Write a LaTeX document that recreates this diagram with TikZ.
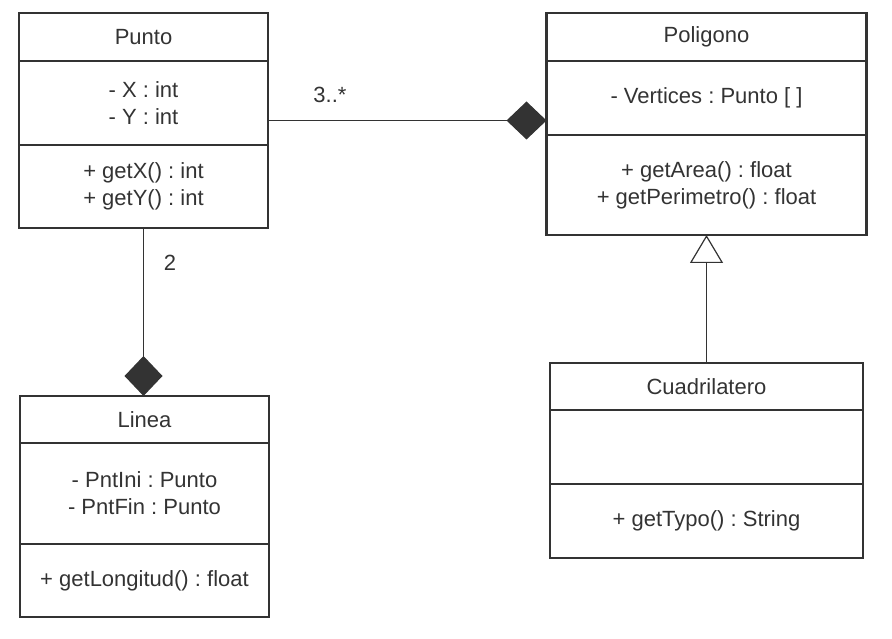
\documentclass[tikz,border=0pt]{standalone}
\usepackage{fontspec}
\setmainfont{Liberation Sans}
\frenchspacing
\usetikzlibrary{positioning}
\usetikzlibrary{arrows.meta,calc}
\definecolor{umlGray}{HTML}{333333}
\tikzset{
    classPart/.style={draw=umlGray, line width=2.4pt, outer sep=0pt, inner sep=0pt,
		text=umlGray, align=center, font=\fontsize{22}{27}\selectfont},
    composition/.style={draw=umlGray, line width=1.2pt,
		-{Diamond[length=40pt,width=38pt,fill=umlGray]}},
    inheritance/.style={draw=umlGray, line width=1.2pt,
		-{Triangle[open,length=28pt,width=33pt,fill=white]}},
    multLabel/.style={text=umlGray, font=\fontsize{22}{27}\selectfont}
}

\begin{document}
\begin{tikzpicture}[x=1pt,y=-1pt]
        \useasboundingbox (0,0) rectangle (892,639);
        % Punto
        \node[classPart, minimum width=249pt, minimum height=48pt] (puntoName) at (143.5,37) {Punto};
        \node[classPart, minimum width=249pt, minimum height=84pt, below=0pt of puntoName] (puntoAttr) {- X : int\\- Y : int};
        \node[classPart, minimum width=249pt, minimum height=83pt, below=0pt of puntoAttr] (puntoOps) {+ getX() : int\\+ getY() : int};
        % Poligono
        \node[classPart, minimum width=320pt, minimum height=48pt] (poligonoName) at (706.5,37) {Poligono};
        \node[classPart, minimum width=320pt, minimum height=74pt, below=0pt of poligonoName] (poligonoAttr) {- Vertices : Punto [ ]};
        \node[classPart, minimum width=320pt, minimum height=100pt, below=0pt of poligonoAttr] (poligonoOps) {+ getArea() : float\\+ getPerimetro() : float};
        % Linea
        \node[classPart, minimum width=249pt, minimum height=47pt] (lineaName) at (144.5,419.5) {Linea};
        \node[classPart, minimum width=249pt, minimum height=101pt, below=0pt of lineaName] (lineaAttr) {- PntIni : Punto\\- PntFin : Punto};
        \node[classPart, minimum width=249pt, minimum height=73pt, below=0pt of lineaAttr] (lineaOps) {+ getLongitud() : float};
        % Cuadrilatero
        \node[classPart, minimum width=313pt, minimum height=47pt] (cuadName) at (706.5,386.5) {Cuadrilatero};
        \node[classPart, minimum width=313pt, minimum height=74pt, below=0pt of cuadName] (cuadAttr) {};
        \node[classPart, minimum width=313pt, minimum height=74pt, below=0pt of cuadAttr] (cuadOps) {+ getTypo() : String};
        % relations
        \coordinate (puntoEast) at ($(puntoName.north east)!0.5!(puntoOps.south east)$);
        \draw[composition] (puntoEast) -- (puntoEast -| poligonoAttr.west);
        \draw[composition] (puntoOps.south) -- (puntoOps.south |- lineaName.north);
        \draw[inheritance] (cuadName.north) -- (poligonoOps.south);
        \node[multLabel] (multPoligono) at (330,95) {3..*};
        \node[multLabel] (multLinea) at (170,263) {2};
      \end{tikzpicture}
\end{document}
